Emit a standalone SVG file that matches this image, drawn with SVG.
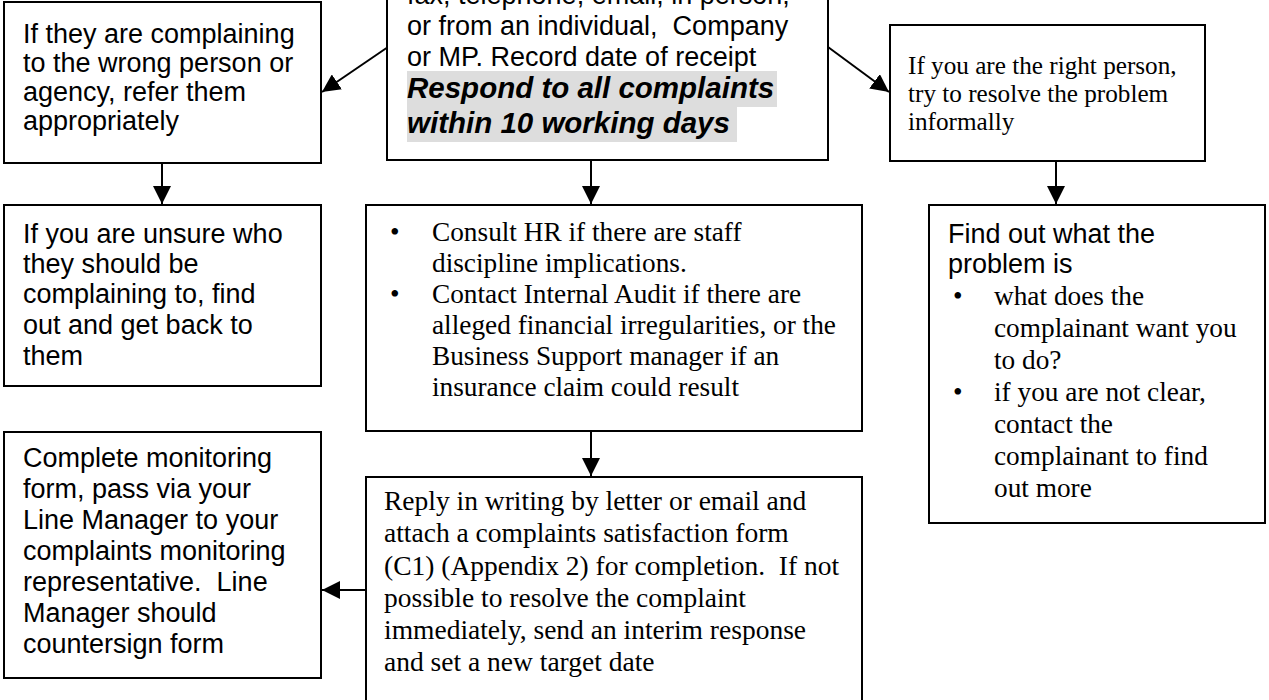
<svg xmlns="http://www.w3.org/2000/svg" width="1269" height="700" viewBox="0 0 1269 700">
  <style>
    .box { fill: #ffffff; stroke: #000000; stroke-width: 2; }
    .sans { font-family: "Liberation Sans", Arial, sans-serif; font-size: 27px; fill: #000000; }
    .serif { font-family: "Liberation Serif", "Times New Roman", serif; font-size: 27.3px; fill: #000000; }
    .serif-sm { font-family: "Liberation Serif", "Times New Roman", serif; font-size: 25.2px; fill: #000000; }
    .serif-lg { font-family: "Liberation Serif", "Times New Roman", serif; font-size: 27.5px; fill: #000000; }
    .strong { font-family: "Liberation Sans", Arial, sans-serif; font-size: 29.5px; font-weight: bold; font-style: italic; fill: #000000; }
    .mark { fill: #dddddd; }
    .link { stroke: #000000; stroke-width: 2; fill: none; }
  </style>
  <defs>
    <marker id="arrow" viewBox="0 0 10 10" refX="10" refY="5" markerWidth="9" markerHeight="9" markerUnits="strokeWidth" orient="auto">
      <path d="M0,0 L10,5 L0,10 Z" fill="#000000"/>
    </marker>
  </defs>
  <rect width="1269" height="700" fill="#ffffff"/>

  <!-- connectors -->
  <g id="connectors">
    <line class="link" x1="388" y1="47" x2="322" y2="92" marker-end="url(#arrow)"/>
    <line class="link" x1="828" y1="47" x2="889" y2="92" marker-end="url(#arrow)"/>
    <line class="link" x1="162" y1="163" x2="162" y2="204" marker-end="url(#arrow)"/>
    <line class="link" x1="591" y1="160" x2="591" y2="204" marker-end="url(#arrow)"/>
    <line class="link" x1="1056" y1="161" x2="1056" y2="204" marker-end="url(#arrow)"/>
    <line class="link" x1="591" y1="431" x2="591" y2="476" marker-end="url(#arrow)"/>
    <line class="link" x1="366" y1="590" x2="322" y2="590" marker-end="url(#arrow)"/>
    <line class="link" x1="581" y1="693" x2="581" y2="702"/>
  </g>

  <!-- wrong person or agency -->
  <g id="node-refer">
    <rect class="box" x="4" y="2" width="317" height="161"/>
    <text class="sans">
      <tspan x="23" y="43">If they are complaining</tspan>
      <tspan x="23" y="72">to the wrong person or</tspan>
      <tspan x="23" y="101">agency, refer them</tspan>
      <tspan x="23" y="130">appropriately</tspan>
    </text>
  </g>

  <!-- receipt of complaint -->
  <g id="node-receive">
    <rect class="box" x="387" y="-20" width="441" height="180"/>
    <rect class="mark" x="407" y="71" width="370" height="36"/>
    <rect class="mark" x="407" y="107" width="330" height="35"/>
    <text class="sans" xml:space="preserve"><tspan x="407" y="4">fax, telephone, email, in person,</tspan><tspan x="407" y="35">or from an individual,  Company</tspan><tspan x="407" y="66">or MP. Record date of receipt</tspan></text>
    <text class="strong">
      <tspan x="407" y="98">Respond to all complaints</tspan>
      <tspan x="407" y="133">within 10 working days</tspan>
    </text>
  </g>

  <!-- right person -->
  <g id="node-informal">
    <rect class="box" x="890" y="25" width="315" height="136"/>
    <text class="serif-sm">
      <tspan x="908" y="74">If you are the right person,</tspan>
      <tspan x="908" y="102">try to resolve the problem</tspan>
      <tspan x="908" y="130">informally</tspan>
    </text>
  </g>

  <!-- unsure who -->
  <g id="node-unsure">
    <rect class="box" x="4" y="205" width="317" height="181"/>
    <text class="sans">
      <tspan x="23" y="243">If you are unsure who</tspan>
      <tspan x="23" y="273">they should be</tspan>
      <tspan x="23" y="303">complaining to, find</tspan>
      <tspan x="23" y="334">out and get back to</tspan>
      <tspan x="23" y="365">them</tspan>
    </text>
  </g>

  <!-- consult HR / audit -->
  <g id="node-consult">
    <rect class="box" x="366" y="205" width="496" height="226"/>
    <text class="serif">
      <tspan x="390" y="241">•</tspan>
      <tspan x="432" y="241">Consult HR if there are staff</tspan>
      <tspan x="432" y="272">discipline implications.</tspan>
      <tspan x="390" y="303">•</tspan>
      <tspan x="432" y="303">Contact Internal Audit if there are</tspan>
      <tspan x="432" y="334">alleged financial irregularities, or the</tspan>
      <tspan x="432" y="365">Business Support manager if an</tspan>
      <tspan x="432" y="396">insurance claim could result</tspan>
    </text>
  </g>

  <!-- find out the problem -->
  <g id="node-find">
    <rect class="box" x="929" y="205" width="336" height="318"/>
    <text class="sans">
      <tspan x="948" y="243">Find out what the</tspan>
      <tspan x="948" y="273">problem is</tspan>
    </text>
    <text class="serif">
      <tspan x="953" y="305">•</tspan>
      <tspan x="994" y="305">what does the</tspan>
      <tspan x="994" y="337">complainant want you</tspan>
      <tspan x="994" y="369">to do?</tspan>
      <tspan x="953" y="401">•</tspan>
      <tspan x="994" y="401">if you are not clear,</tspan>
      <tspan x="994" y="433">contact the</tspan>
      <tspan x="994" y="465">complainant to find</tspan>
      <tspan x="994" y="497">out more</tspan>
    </text>
  </g>

  <!-- monitoring form -->
  <g id="node-monitor">
    <rect class="box" x="4" y="432" width="317" height="246"/>
    <text class="sans" xml:space="preserve"><tspan x="23" y="467">Complete monitoring</tspan><tspan x="23" y="498">form, pass via your</tspan><tspan x="23" y="529">Line Manager to your</tspan><tspan x="23" y="560">complaints monitoring</tspan><tspan x="23" y="591">representative.  Line</tspan><tspan x="23" y="622">Manager should</tspan><tspan x="23" y="653">countersign form</tspan></text>
  </g>

  <!-- written reply -->
  <g id="node-reply">
    <rect class="box" x="366" y="477" width="496" height="240"/>
    <text class="serif-lg" xml:space="preserve"><tspan x="384" y="510">Reply in writing by letter or email and</tspan><tspan x="384" y="542">attach a complaints satisfaction form</tspan><tspan x="384" y="575">(C1) (Appendix 2) for completion.  If not</tspan><tspan x="384" y="607">possible to resolve the complaint</tspan><tspan x="384" y="639">immediately, send an interim response</tspan><tspan x="384" y="671">and set a new target date</tspan></text>
  </g>
</svg>
